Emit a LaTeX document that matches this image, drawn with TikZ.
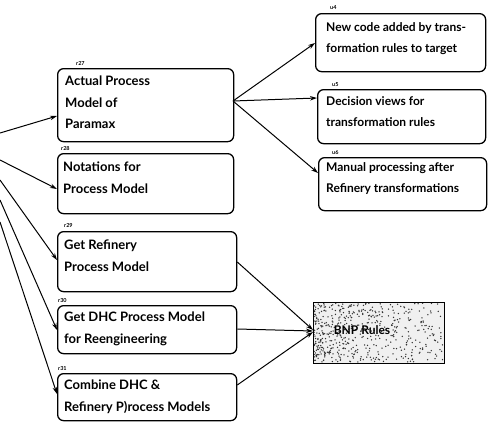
\documentclass[tikz,border=0pt]{standalone}
\usepackage{fontspec}
\setmainfont{Lato}
\usetikzlibrary{arrows.meta}
\begin{document}
\begin{tikzpicture}[x=1pt,y=-1pt,
  box/.style={draw,line width=1.3pt,rounded corners=6pt,anchor=north west,
    inner sep=0pt},
  txt/.style={anchor=north west,align=left,inner sep=0pt,
    font=\fontsize{13}{21.5}\selectfont\bfseries},
  rtxt/.style={txt,font=\fontsize{12}{21}\selectfont\bfseries},
  tag/.style={anchor=south west,inner sep=0pt,font=\fontsize{5.5}{6}\selectfont\bfseries},
  link/.style={line width=1pt,-{Stealth[length=7pt,width=4.5pt]}}]
\useasboundingbox (0,0) rectangle (496,434);

% left column of process models
\node[box,minimum width=176pt,minimum height=73pt] (r27) at (57,68) {};
\node[txt] (t27) at (65,76) {Actual Process\\Model of\\Paramax};
\node[tag] (l27) at (76,66) {r27};

\node[box,minimum width=176pt,minimum height=60pt] (r28) at (57,153) {};
\node[txt] (t28) at (63,162) {Notations for\\Process Model};
\node[tag] (l28) at (61,151) {r28};

\node[box,minimum width=179pt,minimum height=60pt] (r29) at (57,231) {};
\node[txt] (t29) at (64,240) {Get Refinery\\Process Model};
\node[tag] (l29) at (64,228) {r29};

\node[box,minimum width=179pt,minimum height=48pt] (r30) at (57,305) {};
\node[txt] (t30) at (64,312) {Get DHC Process Model\\for Reengineering};
\node[tag] (l30) at (58,303) {r30};

\node[box,minimum width=179pt,minimum height=47pt] (r31) at (57,373) {};
\node[txt] (t31) at (64,380) {Combine DHC \&\\Refinery P)rocess Models};
\node[tag] (l31) at (58,371) {r31};

% right column of outputs
\node[box,minimum width=170pt,minimum height=58pt] (u4) at (315,13) {};
\node[rtxt] (t4) at (326,22) {New code added by trans-\\formation rules to target};
\node[tag] (l4) at (330,10) {u4};

\node[box,minimum width=168pt,minimum height=54pt] (u5) at (317,89) {};
\node[rtxt] (t5) at (326,96) {Decision views for\\transformation rules};
\node[tag] (l5) at (332,87) {u5};

\node[box,minimum width=168pt,minimum height=53pt] (u6) at (318,157) {};
\node[rtxt] (t6) at (326,162) {Manual processing after\\Refinery transformations};
\node[tag] (l6) at (332,155) {u6};

% speckled rule box
\node[draw,line width=1.3pt,fill=black!6,anchor=north west,
  minimum width=131pt,minimum height=61pt,inner sep=0pt] (bnp) at (313,302) {};
\begin{scope}
  \clip (314,303) rectangle (443,362);
  \pgfmathsetseed{7}
  \foreach \i in {1,...,520} {
    \pgfmathsetmacro{\px}{314+129*rnd^1.5}
    \pgfmathsetmacro{\py}{303+59*rnd}
    \fill[black!80] (\px,\py) circle (0.75pt);
  }
\end{scope}
\node[font=\fontsize{12}{14}\selectfont\bfseries,inner sep=0pt] (bt) at (362,330) {BNP Rules};

% incoming links from the left
\coordinate (in1) at (0,133);
\coordinate (in2) at (0,160);
\coordinate (in3) at (0,180);
\coordinate (in4) at (0,200);
\coordinate (in5) at (0,222);
\draw[link] (in1) -- (r27.west |- 0,116);
\draw[link] (in2) -- (r28.west |- 0,189);
\draw[link] (in3) -- (r29.west |- 0,260);
\draw[link] (in4) -- (r30.west |- 0,330);
\draw[link] (in5) -- (r31.west |- 0,394);

% outgoing links
\coordinate (o27) at (233,101);
\draw[link] (o27) -- (u4.west |- 0,43);
\draw[link] (o27) -- (u5.west |- 0,98);
\draw[link] (o27) -- (u6.west |- 0,173);
\draw[link] (r29.east |- 0,262) -- (bnp.west |- 0,330);
\draw[link] (r30.east |- 0,329) -- (bnp.west |- 0,331);
\draw[link] (r31.east |- 0,385) -- (bnp.west |- 0,332);
\end{tikzpicture}
\end{document}
